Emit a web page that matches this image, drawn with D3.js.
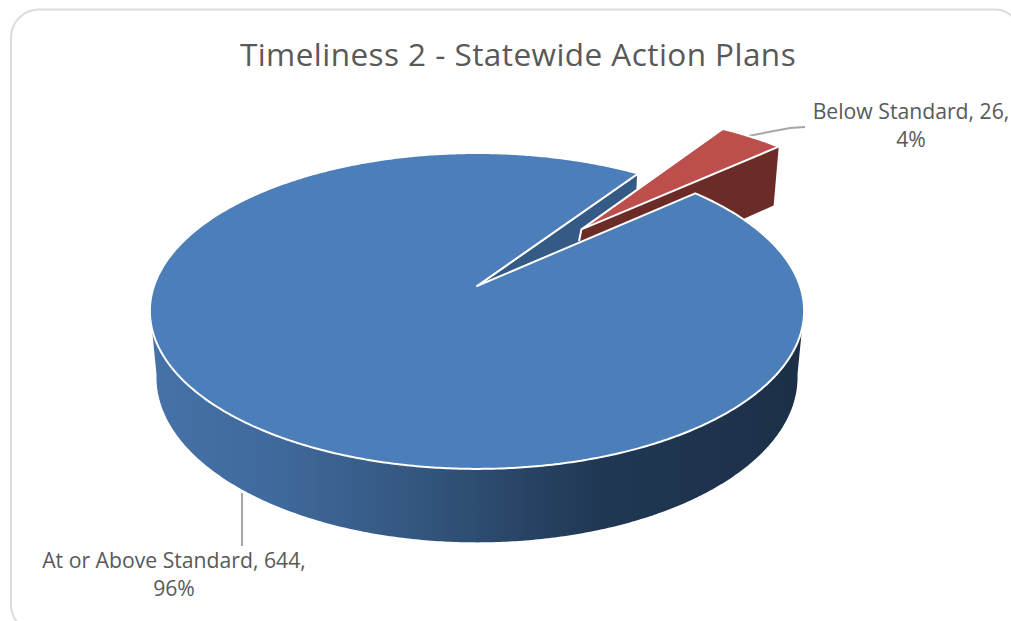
<!DOCTYPE html>
<html>
<head>
<meta charset="utf-8">
<script src="https://cdn.jsdelivr.net/npm/d3@7"></script>
<style>
  html, body { margin: 0; padding: 0; background: #fff; overflow: hidden; }
  text { font-family: "Open Sans", sans-serif; fill: #595959; }
</style>
</head>
<body>
<script>
const categories = ["At or Above Standard", "Below Standard"];
const values = [644, 26];
const percents = ["96%", "4%"];
const chartTitle = "Timeliness 2 - Statewide Action Plans";

const width = 1011;
const height = 621;

const svg = d3.select("body").append("svg")
  .attr("width", width)
  .attr("height", height);

// frame, runs off the right and bottom of the window
svg.append("rect")
  .attr("x", 11).attr("y", 9.5)
  .attr("width", 1011).attr("height", 623)
  .attr("rx", 28)
  .attr("fill", "#fff")
  .attr("stroke", "#dcdcdc")
  .attr("stroke-width", 2);

svg.append("text")
  .attr("x", 518).attr("y", 66)
  .attr("text-anchor", "middle")
  .style("font-size", "31.5px")
  .style("letter-spacing", "0.45px")
  .text(chartTitle);

// perspective: x,y on the unit disc, z 0 = top face, 1 = bottom face
const project = (x, y, z) => {
  const w = 1 - 0.158 * y + 0.02 * z;
  return [477 + (323 * x) / w, 286 + (154 * y + 67 * z) / w];
};
const onRim = (a, z, off) => project(
  Math.sin(a) + off[0],
  -Math.cos(a) + off[1],
  z
);

const deg = Math.PI / 180;
const pie = d3.pie().sort(null)
  .startAngle(48.3 * deg)
  .endAngle((48.3 + 360) * deg);
const arcs = pie(values);
const blue = arcs[0];
const red = arcs[1];

// red slice is pulled out along its middle angle
const redMid = (red.startAngle + red.endAngle) / 2;
const explode = 0.52;
const redOff = [Math.sin(redMid) * explode, -Math.cos(redMid) * explode];
const noOff = [0, 0];

const line = d3.line();
const sample = (a0, a1, z, off) => {
  const n = Math.ceil(Math.abs(a1 - a0) / (0.5 * deg));
  return d3.range(n + 1).map((i) => onRim(a0 + ((a1 - a0) * i) / n, z, off));
};

const defs = svg.append("defs");
const wallGrad = defs.append("linearGradient")
  .attr("id", "wall")
  .attr("gradientUnits", "userSpaceOnUse")
  .attr("x1", 150).attr("x2", 804).attr("y1", 0).attr("y2", 0);
[[0, "#4672a8"], [0.2, "#3f699b"], [0.42, "#33557d"], [0.68, "#203854"], [1, "#1c2f47"]]
  .forEach((s) => wallGrad.append("stop").attr("offset", s[0]).attr("stop-color", s[1]));

// leader lines go under the pie
const leaders = [
  [[242, 493], [242, 546]],
  [[748, 136], [790, 128], [805, 127]],
];
svg.selectAll("path.leader").data(leaders).enter().append("path")
  .attr("class", "leader")
  .attr("d", (d) => line(d))
  .attr("fill", "none")
  .attr("stroke", "#a6a6a6")
  .attr("stroke-width", 2);

// outer wall of the big slice, front half only
const wallTop = sample(98 * deg, 262 * deg, 0, noOff);
const wallBottom = sample(262 * deg, 98 * deg, 1, noOff);
svg.append("path")
  .attr("d", line(wallTop.concat(wallBottom)) + "Z")
  .attr("fill", "url(#wall)");

// cut face seen through the notch
const blueEnd = blue.endAngle;
svg.append("path")
  .attr("d", line([
    project(0, 0, 0),
    onRim(blueEnd, 0, noOff),
    onRim(blueEnd, 1, noOff),
    project(0, 0, 1),
  ]) + "Z")
  .attr("fill", "#355a85")
  .attr("stroke", "#fff")
  .attr("stroke-width", 2)
  .attr("stroke-linejoin", "round");

// red slice: cut face then top
svg.append("path")
  .attr("d", line([
    project(redOff[0], redOff[1], 0),
    onRim(red.endAngle, 0, redOff),
    onRim(red.endAngle, 1, redOff),
    project(redOff[0], redOff[1], 1),
  ]) + "Z")
  .attr("fill", "#6b2c28");

svg.append("path")
  .attr("d", line(
    [project(redOff[0], redOff[1], 0)].concat(sample(red.startAngle, red.endAngle, 0, redOff))
  ) + "Z")
  .attr("fill", "#bc4f4b")
  .attr("stroke", "#fff")
  .attr("stroke-width", 2)
  .attr("stroke-linejoin", "round");

// white edge of the red apex
svg.append("path")
  .attr("d", line([project(redOff[0], redOff[1], 0), [579, 241]]))
  .attr("stroke", "#fff")
  .attr("stroke-width", 2);

// top face of the big slice
svg.append("path")
  .attr("d", line(
    [project(0, 0, 0)].concat(sample(blue.startAngle, blue.endAngle, 0, noOff))
  ) + "Z")
  .attr("fill", "#4c7eba")
  .attr("stroke", "#fff")
  .attr("stroke-width", 2)
  .attr("stroke-linejoin", "round");

// data labels, two lines each
const labelPos = [
  { x: 174, y: 568 },
  { x: 911, y: 119 },
];
arcs.forEach((d, i) => {
  const t = svg.append("text")
    .attr("text-anchor", "middle")
    .style("font-size", "21.2px");
  t.append("tspan")
    .attr("x", labelPos[i].x).attr("y", labelPos[i].y)
    .text(`${categories[i]}, ${d.value},`);
  t.append("tspan")
    .attr("x", labelPos[i].x).attr("y", labelPos[i].y + 28)
    .text(percents[i]);
});
</script>
</body>
</html>
